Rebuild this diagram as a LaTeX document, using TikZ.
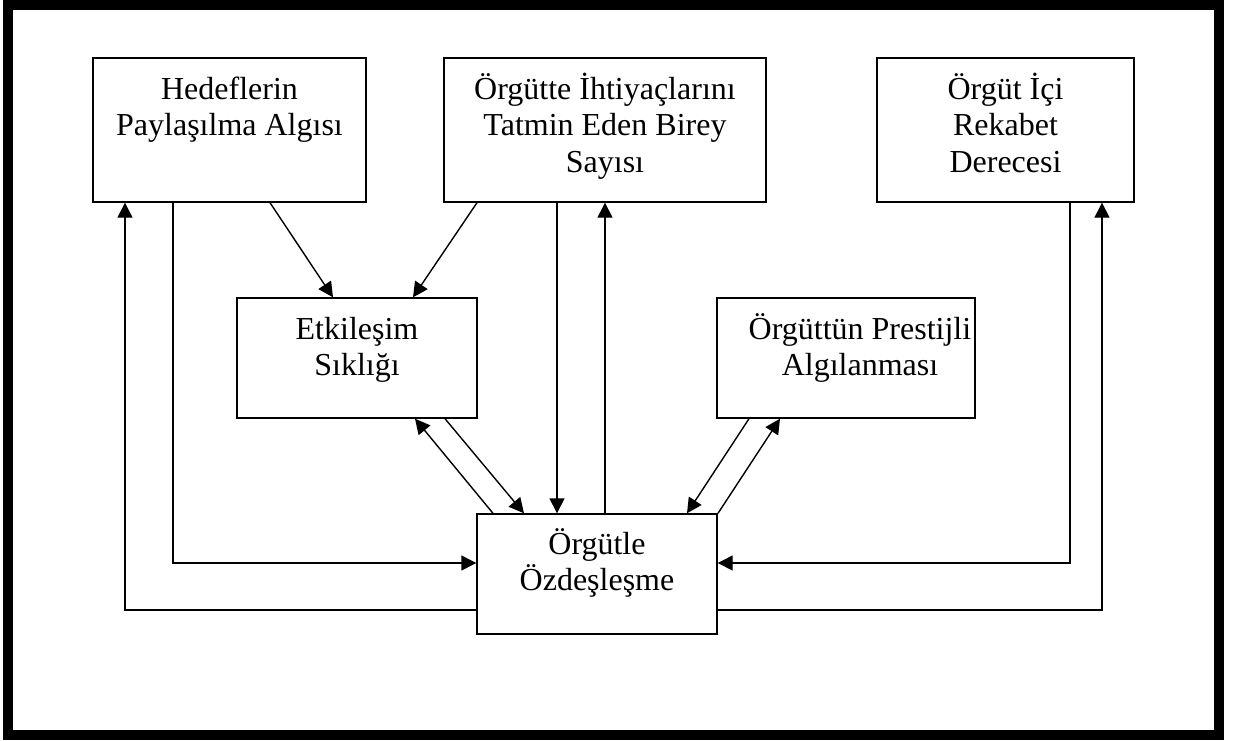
\documentclass[tikz,border=0pt]{standalone}
\usepackage{fontspec}
\setmainfont{Liberation Serif}
\usetikzlibrary{arrows.meta}
\tikzset{
  box/.style={draw, line width=1.4pt, rectangle, inner sep=0pt, minimum height=144pt},
  sbox/.style={box, minimum height=120pt},
  txt/.style={align=center, inner sep=0pt, anchor=base, font=\fontsize{32}{36.5}\selectfont},
  arr/.style={line width=1.4pt, -{Triangle[length=15pt,width=15pt]}}
}
\begin{document}
\begin{tikzpicture}[x=1pt,y=-1pt]
\useasboundingbox (0,0) rectangle (1235,740);
\draw[line width=10pt] (8,5) rectangle (1219,735);

\node[box, minimum width=273pt] (hed) at (229.5,130) {};
\node[box, minimum width=322pt] (ihti) at (605,130) {};
\node[box, minimum width=257pt] (rek) at (1005.5,130) {};
\node[sbox, minimum width=240pt] (etk) at (357,358) {};
\node[sbox, minimum width=258pt] (pres) at (846,358) {};
\node[sbox, minimum width=240pt] (ozd) at (597,574) {};

\node[txt] (hedt) at ([yshift=-78.5pt]hed.north) {Hedeflerin\\Paylaşılma Algısı};
\node[txt] (ihtit) at ([yshift=-115pt]ihti.north) {Örgütte İhtiyaçlarını\\Tatmin Eden Birey\\Sayısı};
\node[txt] (rekt) at ([yshift=-115pt]rek.north) {Örgüt İçi\\Rekabet\\Derecesi};
\node[txt] (etkt) at ([yshift=-78.5pt]etk.north) {Etkileşim\\Sıklığı};
\node[txt] (prest) at ([xshift=14pt,yshift=-78.5pt]pres.north) {Örgüttün Prestijli\\Algılanması};
\node[txt] (ozdt) at ([yshift=-77.5pt]ozd.north) {Örgütle\\Özdeşleşme};

\draw[arr] (ozd.west |- 0,610) -| (hed.south -| 125,0);
\draw[arr] (hed.south -| 173,0) |- (ozd.west |- 0,563);
\draw[arr] (hed.south -| 270,0) -- (etk.north -| 333,0);
\draw[arr] (ihti.south -| 477,0) -- (etk.north -| 413,0);
\draw[arr] (ihti.south -| 557,0) -- (ozd.north -| 557,0);
\draw[arr] (ozd.north -| 605,0) -- (ihti.south -| 605,0);
\draw[arr] (ozd.north -| 493,0) -- (etk.south -| 415,0);
\draw[arr] (etk.south -| 445,0) -- (ozd.north -| 524,0);
\draw[arr] (pres.south -| 749,0) -- (ozd.north -| 687,0);
\draw[arr] (ozd.north -| 718,0) -- (pres.south -| 780,0);
\draw[arr] (rek.south -| 1070,0) |- (ozd.east |- 0,563);
\draw[arr] (ozd.east |- 0,610) -| (rek.south -| 1102,0);
\end{tikzpicture}
\end{document}
